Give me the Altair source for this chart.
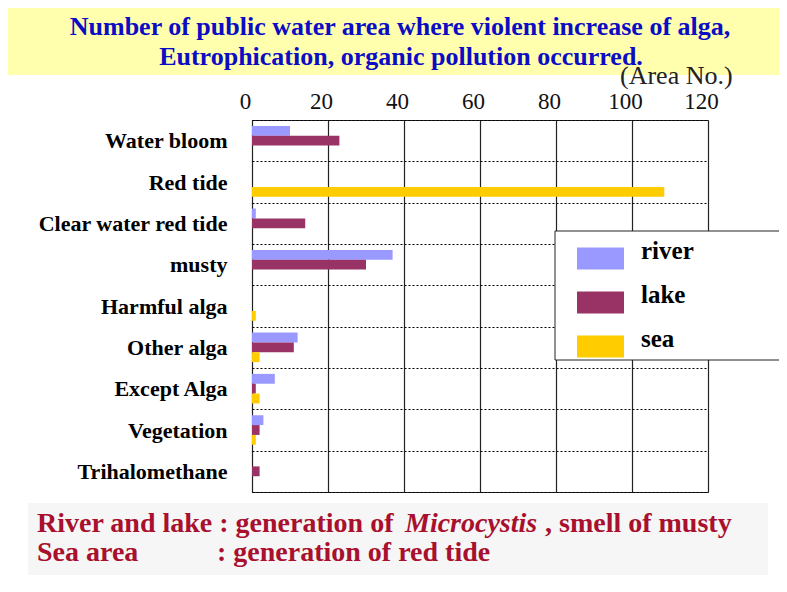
import altair as alt
import pandas as pd

# ---------------- data ----------------
categories = ["Water bloom", "Red tide", "Clear water red tide", "musty",
              "Harmful alga", "Other alga", "Except Alga", "Vegetation",
              "Trihalomethane"]
series = ["river", "lake", "sea"]
river = [10, 0, 1, 37, 0, 12, 6, 3, 0]
lake = [23, 0, 14, 30, 0, 11, 1, 2, 2]
sea = [0, 108.5, 0, 0, 1, 2, 2, 1, 0]
colors = ["#9999FF", "#993366", "#FFCC00"]
x_ticks = [0, 20, 40, 60, 80, 100, 120]

title_lines = ["Number of public water area where violent increase of alga,",
               "Eutrophication, organic pollution occurred."]
unit_label = "(Area No.)"
note1_a = "River and lake : generation of "
note1_b = "Microcystis"
note1_c = ", smell of musty"
note2_a = "Sea area"
note2_b = ": generation of red tide"

rows = []
for s, vals in zip(series, [river, lake, sea]):
    for c, v in zip(categories, vals):
        rows.append({"category": c, "series": s, "value": v})
df = pd.DataFrame(rows)

SERIF = "Liberation Serif"
W, H = 456, 372

bars = alt.Chart(df).mark_bar().encode(
    x=alt.X("value:Q", scale=alt.Scale(domain=[0, 120], nice=False, zero=True),
            axis=alt.Axis(orient="top", values=x_ticks, title=None, grid=True,
                          gridColor="#222222", gridWidth=1.2, domain=False, ticks=False,
                          labelFont=SERIF, labelFontSize=23, labelColor="#111111",
                          labelPadding=7, labelOffset=-7, labelFlush=False)),
    y=alt.Y("category:N", sort=categories,
            scale=alt.Scale(paddingInner=0, paddingOuter=0),
            axis=alt.Axis(title=None, tickBand="extent", grid=True, gridColor="#000000",
                          gridDash=[2, 2], gridWidth=1, gridOpacity=1, domain=False,
                          ticks=False, labelFont=SERIF, labelFontSize=22,
                          labelFontWeight="bold", labelColor="#000000", labelAlign="right",
                          labelPadding=25, labelLimit=300)),
    yOffset=alt.YOffset("series:N", sort=series,
                        scale=alt.Scale(domain=series, paddingInner=0, paddingOuter=0.6)),
    color=alt.Color("series:N", sort=series,
                    scale=alt.Scale(domain=series, range=colors),
                    legend=alt.Legend(title=None, orient="none", legendX=325, legendY=115,
                                      padding=0, symbolType="M-1,-0.47H1V0.47H-1Z",
                                      symbolSize=2209, symbolStrokeWidth=0,
                                      symbolOpacity=1, labelFont=SERIF, labelFontSize=25,
                                      labelFontWeight="bold", labelColor="#000000",
                                      labelOffset=17, labelBaseline="alphabetic",
                                      rowPadding=9)),
)

one = alt.Data(values=[{}])

legend_box = alt.Chart(one).mark_rect(fill="white", stroke="#222222", strokeWidth=1).encode(
    x=alt.value(303), x2=alt.value(560), y=alt.value(111), y2=alt.value(240))

yellow = alt.Chart(one).mark_rect(fill="#FFFFAE").encode(
    x=alt.value(-247), x2=alt.value(540), y=alt.value(-117), y2=alt.value(-45))

note_box = alt.Chart(one).mark_rect(fill="#F6F6F6").encode(
    x=alt.value(-224), x2=alt.value(516), y=alt.value(383), y2=alt.value(455))

frame_left = alt.Chart(one).mark_rule(color="#000000", strokeWidth=2).encode(
    x=alt.value(-247), y=alt.value(-117), y2=alt.value(480))
frame_top = alt.Chart(one).mark_rule(color="#000000", strokeWidth=2).encode(
    x=alt.value(-247), x2=alt.value(540), y=alt.value(-117))


def txt(s, x, y, size, color, weight="normal", style="normal", align="left", baseline="middle"):
    return alt.Chart(pd.DataFrame({"t": [s]})).mark_text(
        font=SERIF, fontSize=size, fontWeight=weight, fontStyle=style,
        color=color, align=align, baseline=baseline).encode(
        text="t:N", x=alt.value(x), y=alt.value(y))


BLUE = "#0C0CC4"
RED = "#A8102E"
texts = [
    txt(title_lines[0], 148, -93, 26, BLUE, weight="bold", align="center"),
    txt(title_lines[1], 149, -63, 26, BLUE, weight="bold", align="center"),
    txt(unit_label, 368, -44, 26, "#222222"),
    txt(note1_a, -215, 412, 28, RED, weight="bold", baseline="alphabetic"),
    txt(note1_b, 153, 412, 28, RED, weight="bold", style="italic", baseline="alphabetic"),
    txt(note1_c, 293, 412, 28, RED, weight="bold", baseline="alphabetic"),
    txt(note2_a, -215, 441, 28, RED, weight="bold", baseline="alphabetic"),
    txt(note2_b, -35, 441, 28, RED, weight="bold", baseline="alphabetic"),
]

chart = alt.layer(yellow, note_box, bars, legend_box, frame_left, frame_top, *texts).properties(
    width=W, height=H,
    autosize=alt.AutoSizeParams(type="none"),
    padding={"left": 244, "top": 112, "right": 71, "bottom": 92},
    background="white",
).configure_view(stroke="#222222", strokeWidth=1)

chart.save("out.html", embed_options={"renderer": "svg", "actions": False})
